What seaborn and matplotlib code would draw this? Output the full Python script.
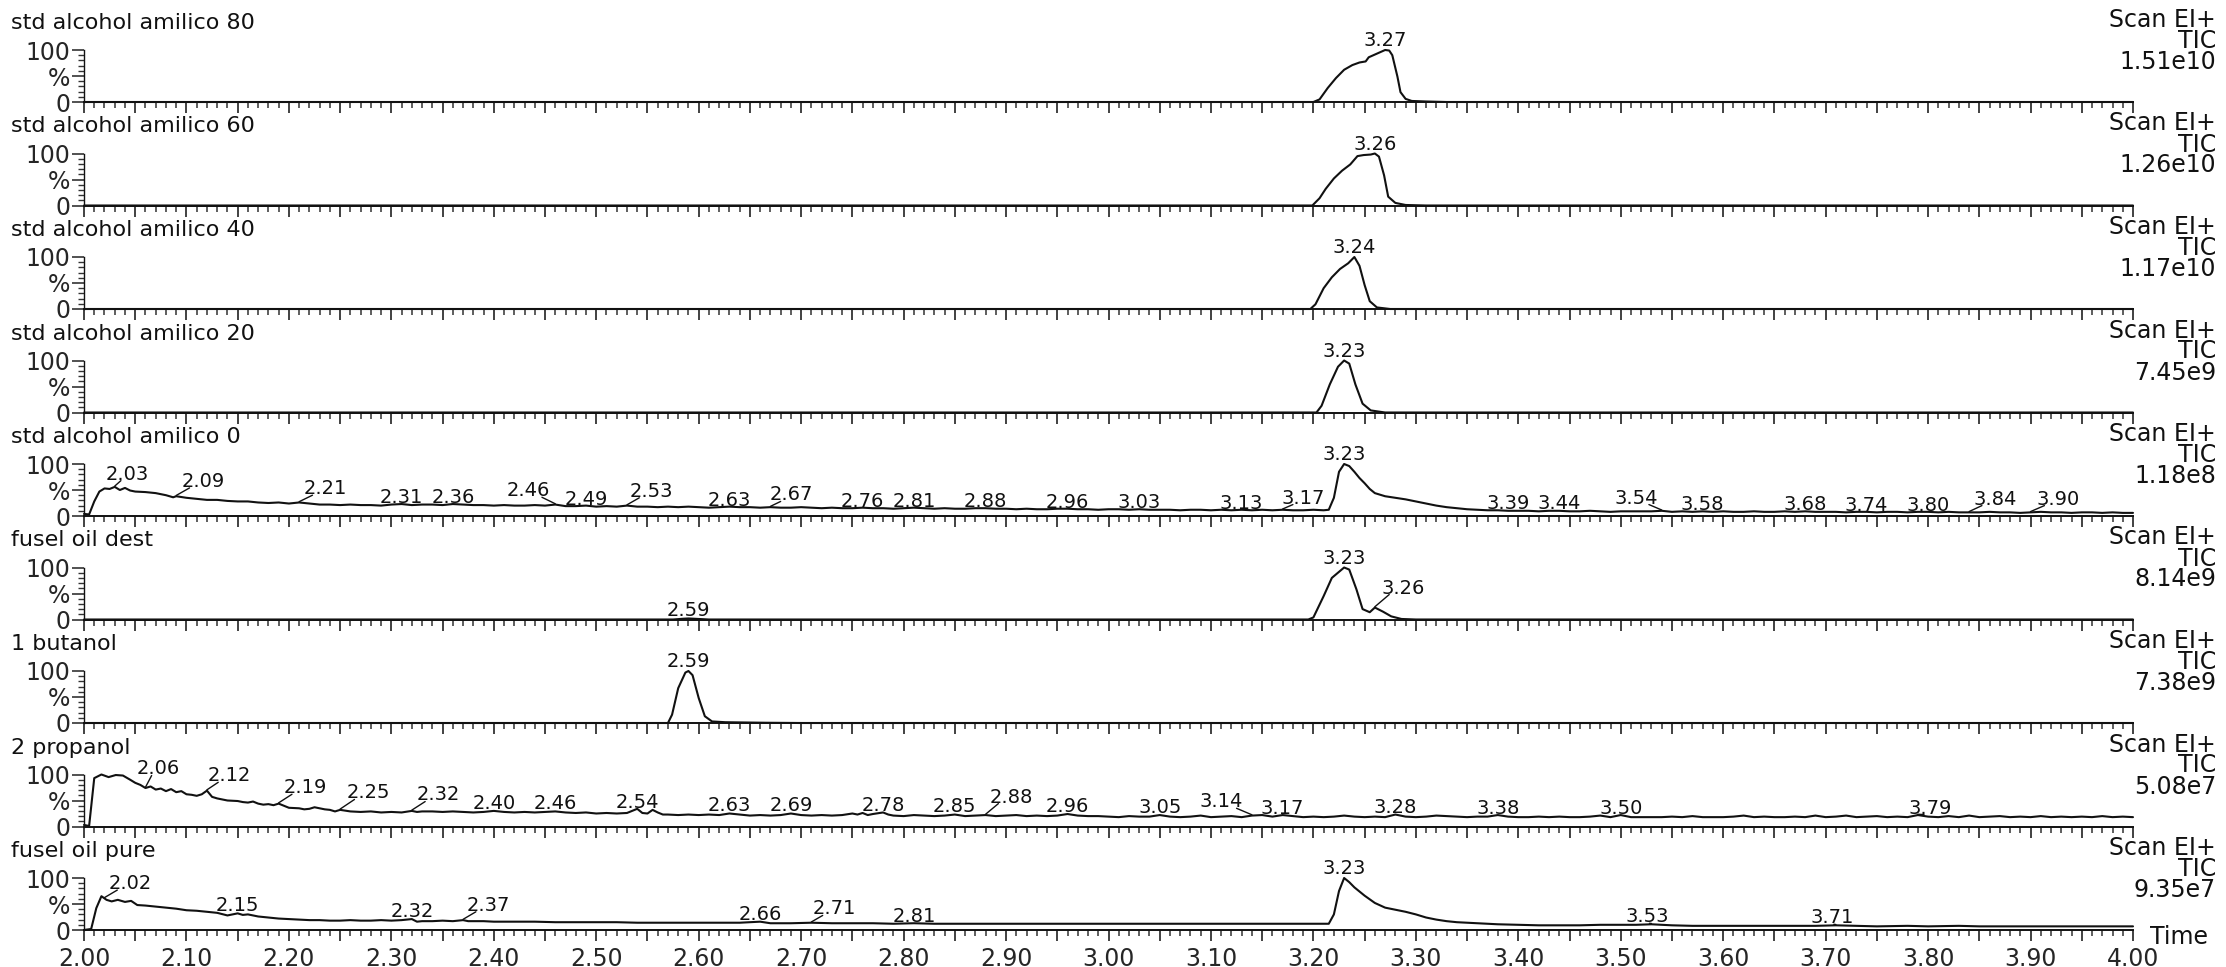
import numpy as np
import pandas as pd
import matplotlib
matplotlib.use("Agg")
import matplotlib.pyplot as plt
from matplotlib.ticker import MultipleLocator, FixedLocator, FixedFormatter
import seaborn as sns

# ---------------------------------------------------------------------------
# TIC chromatograms: retention time (min) and relative abundance (%)
# ---------------------------------------------------------------------------
std80_t = [2.00, 3.200, 3.206, 3.214, 3.222, 3.230, 3.238, 3.245, 3.251, 3.254,
           3.262, 3.270, 3.274, 3.277, 3.282, 3.285, 3.290, 3.296, 3.31, 3.33, 4.00]
std80_v = [0, 0, 5, 27, 46, 62, 71, 76, 78, 86,
           93, 100, 99, 90, 49, 19, 6, 2, 1, 0, 0]

std60_t = [2.00, 3.199, 3.206, 3.212, 3.220, 3.228, 3.236, 3.243, 3.249, 3.256,
           3.260, 3.264, 3.269, 3.273, 3.280, 3.290, 3.31, 4.00]
std60_v = [0, 0, 14, 32, 52, 67, 79, 95, 97, 98,
           100, 94, 58, 17, 5, 1, 0, 0]

std40_t = [2.00, 3.197, 3.202, 3.210, 3.218, 3.226, 3.234, 3.240, 3.245, 3.250,
           3.255, 3.262, 3.275, 4.00]
std40_v = [0, 0, 9, 40, 61, 77, 88, 100, 83, 46,
           15, 3, 0, 0]

std20_t = [2.00, 3.203, 3.208, 3.216, 3.224, 3.230, 3.235, 3.241, 3.248, 3.256,
           3.270, 4.00]
std20_v = [0, 0, 13, 54, 88, 100, 94, 54, 17, 4,
           0, 0]

std0_t = [2.000, 2.005, 2.010, 2.015, 2.020, 2.025, 2.030, 2.035, 2.040, 2.045,
          2.050, 2.06, 2.07, 2.08, 2.087, 2.09, 2.10, 2.11, 2.12, 2.13,
          2.14, 2.15, 2.16, 2.17, 2.18, 2.19, 2.20, 2.21, 2.22, 2.23,
          2.24, 2.25, 2.26, 2.27, 2.28, 2.29, 2.30, 2.31, 2.32, 2.33,
          2.34, 2.35, 2.36, 2.37, 2.38, 2.39, 2.40, 2.41, 2.42, 2.43,
          2.44, 2.45, 2.46, 2.47, 2.48, 2.49, 2.50, 2.51, 2.52, 2.53,
          2.54, 2.55, 2.56, 2.57, 2.58, 2.59, 2.60, 2.61, 2.62, 2.63,
          2.64, 2.65, 2.66, 2.67, 2.68, 2.69, 2.70, 2.71, 2.72, 2.73,
          2.74, 2.75, 2.76, 2.77, 2.78, 2.79, 2.80, 2.81, 2.82, 2.83,
          2.84, 2.85, 2.86, 2.87, 2.88, 2.89, 2.90, 2.91, 2.92, 2.93,
          2.94, 2.95, 2.96, 2.97, 2.98, 2.99, 3.00, 3.01, 3.02, 3.03,
          3.04, 3.05, 3.06, 3.07, 3.08, 3.09, 3.10, 3.11, 3.12, 3.13,
          3.14, 3.15, 3.16, 3.17, 3.18, 3.19, 3.20, 3.21, 3.215, 3.220,
          3.225, 3.230, 3.235, 3.240, 3.245, 3.250, 3.255, 3.26, 3.27, 3.28,
          3.29, 3.30, 3.31, 3.32, 3.33, 3.34, 3.35, 3.36, 3.37, 3.38,
          3.39, 3.40, 3.41, 3.42, 3.43, 3.44, 3.45, 3.46, 3.47, 3.48,
          3.49, 3.50, 3.51, 3.52, 3.53, 3.54, 3.55, 3.56, 3.57, 3.58,
          3.59, 3.60, 3.61, 3.62, 3.63, 3.64, 3.65, 3.66, 3.67, 3.68,
          3.69, 3.70, 3.71, 3.72, 3.73, 3.74, 3.75, 3.76, 3.77, 3.78,
          3.79, 3.80, 3.81, 3.82, 3.83, 3.84, 3.85, 3.86, 3.87, 3.88,
          3.89, 3.90, 3.91, 3.92, 3.93, 3.94, 3.95, 3.96, 3.97, 3.98,
          3.99, 4.00]
std0_v = [4, 3, 28, 47, 53, 52, 56, 50, 54, 49,
          47, 46, 44, 40, 36, 38, 35, 33, 31, 31,
          29, 28, 28, 26, 25, 26, 24, 26, 24, 22,
          22, 21, 22, 21, 21, 20, 22, 23, 21, 22,
          22, 21, 23, 22, 21, 21, 20, 21, 20, 20,
          21, 20, 22, 19, 19, 20, 18, 19, 18, 20,
          18, 18, 17, 18, 17, 18, 17, 16, 17, 18,
          17, 17, 16, 17, 16, 16, 17, 16, 15, 16,
          15, 15, 16, 15, 15, 14, 15, 16, 15, 14,
          15, 14, 14, 15, 15, 14, 14, 13, 14, 13,
          13, 14, 14, 13, 13, 12, 13, 13, 12, 13,
          12, 12, 12, 11, 12, 12, 11, 12, 11, 12,
          11, 12, 11, 12, 11, 11, 12, 11, 12, 35,
          85, 100, 96, 85, 73, 63, 52, 44, 38, 35,
          32, 28, 24, 20, 17, 15, 13, 12, 11, 11,
          10, 10, 10, 9, 10, 10, 9, 9, 10, 9,
          8, 9, 9, 9, 9, 10, 8, 9, 8, 9,
          8, 9, 8, 8, 9, 8, 8, 9, 8, 9,
          8, 8, 8, 7, 8, 8, 7, 8, 8, 7,
          8, 8, 7, 8, 7, 7, 7, 8, 7, 7,
          6, 7, 8, 7, 7, 6, 7, 7, 6, 7,
          6, 6]

fdest_t = [2.00, 2.575, 2.585, 2.590, 2.595, 2.610, 3.195, 3.200, 3.210, 3.218,
           3.230, 3.235, 3.242, 3.248, 3.255, 3.260, 3.268, 3.276, 3.286, 3.30, 4.00]
fdest_v = [0, 0, 1.5, 2, 1.5, 0, 0, 4, 45, 80,
           100, 96, 58, 20, 14, 23, 15, 6, 1, 0, 0]

butanol_t = [2.00, 2.570, 2.574, 2.580, 2.587, 2.590, 2.594, 2.600, 2.606, 2.613,
             2.626, 2.665, 2.70, 4.00]
butanol_v = [0, 0, 16, 67, 97, 100, 92, 48, 13, 3,
             1.5, 0.5, 0, 0]

prop_t = [2.000, 2.005, 2.010, 2.017, 2.024, 2.031, 2.038, 2.045, 2.050, 2.055,
          2.060, 2.065, 2.070, 2.075, 2.080, 2.085, 2.090, 2.095, 2.100, 2.105,
          2.110, 2.115, 2.120, 2.125, 2.130, 2.135, 2.140, 2.150, 2.155, 2.160,
          2.165, 2.170, 2.175, 2.180, 2.185, 2.190, 2.195, 2.200, 2.210, 2.215,
          2.220, 2.225, 2.230, 2.235, 2.240, 2.245, 2.250, 2.260, 2.270, 2.280,
          2.290, 2.300, 2.310, 2.320, 2.325, 2.330, 2.340, 2.350, 2.360, 2.370,
          2.380, 2.390, 2.400, 2.410, 2.420, 2.430, 2.440, 2.450, 2.460, 2.470,
          2.480, 2.490, 2.500, 2.510, 2.520, 2.530, 2.540, 2.545, 2.550, 2.555,
          2.560, 2.565, 2.570, 2.580, 2.590, 2.600, 2.610, 2.620, 2.630, 2.640,
          2.650, 2.660, 2.670, 2.680, 2.690, 2.700, 2.710, 2.720, 2.730, 2.740,
          2.750, 2.755, 2.760, 2.765, 2.770, 2.780, 2.785, 2.790, 2.800, 2.810,
          2.820, 2.830, 2.840, 2.850, 2.860, 2.870, 2.880, 2.890, 2.900, 2.910,
          2.920, 2.930, 2.940, 2.950, 2.960, 2.970, 2.980, 2.990, 3.000, 3.010,
          3.020, 3.030, 3.040, 3.050, 3.060, 3.070, 3.080, 3.090, 3.100, 3.110,
          3.120, 3.130, 3.140, 3.150, 3.160, 3.170, 3.180, 3.190, 3.200, 3.210,
          3.220, 3.230, 3.240, 3.250, 3.260, 3.270, 3.280, 3.290, 3.300, 3.310,
          3.320, 3.330, 3.340, 3.350, 3.360, 3.370, 3.380, 3.390, 3.400, 3.410,
          3.420, 3.430, 3.440, 3.450, 3.460, 3.470, 3.480, 3.490, 3.500, 3.510,
          3.520, 3.530, 3.540, 3.550, 3.560, 3.570, 3.580, 3.590, 3.600, 3.610,
          3.620, 3.630, 3.640, 3.650, 3.660, 3.670, 3.680, 3.690, 3.700, 3.710,
          3.720, 3.730, 3.740, 3.750, 3.760, 3.770, 3.780, 3.790, 3.800, 3.810,
          3.820, 3.830, 3.840, 3.850, 3.860, 3.870, 3.880, 3.890, 3.900, 3.910,
          3.920, 3.930, 3.940, 3.950, 3.960, 3.970, 3.980, 3.990, 4.000]
prop_v = [3, 1, 93, 100, 95, 99, 98, 90, 84, 80,
          74, 77, 71, 73, 68, 72, 66, 68, 62, 61,
          59, 62, 69, 57, 54, 52, 50, 49, 47, 46,
          48, 44, 42, 43, 41, 44, 40, 36, 35, 33,
          34, 37, 35, 33, 32, 29, 32, 29, 28, 29,
          27, 28, 27, 30, 28, 29, 29, 28, 29, 28,
          27, 28, 30, 28, 27, 28, 27, 28, 29, 27,
          26, 27, 25, 26, 25, 26, 34, 26, 25, 32,
          27, 23, 23, 22, 23, 22, 23, 22, 25, 23,
          21, 22, 21, 22, 25, 22, 21, 22, 21, 22,
          25, 23, 26, 22, 24, 27, 23, 21, 20, 22,
          21, 20, 21, 23, 20, 21, 22, 20, 21, 22,
          20, 21, 20, 21, 24, 21, 20, 20, 19, 18,
          20, 19, 19, 22, 19, 18, 19, 21, 18, 19,
          20, 18, 21, 22, 19, 22, 20, 18, 19, 18,
          19, 21, 19, 18, 19, 18, 23, 19, 18, 19,
          21, 20, 19, 18, 19, 19, 22, 19, 18, 18,
          19, 18, 19, 18, 18, 19, 21, 18, 22, 18,
          18, 18, 18, 19, 18, 20, 18, 18, 18, 19,
          21, 18, 19, 18, 18, 19, 18, 21, 18, 19,
          21, 18, 19, 20, 18, 19, 18, 22, 19, 18,
          20, 18, 21, 18, 19, 20, 18, 19, 18, 20,
          18, 19, 18, 19, 18, 20, 18, 19, 18]

fpure_t = [2.000, 2.007, 2.012, 2.017, 2.022, 2.027, 2.033, 2.040, 2.046, 2.052,
           2.06, 2.07, 2.08, 2.09, 2.10, 2.11, 2.12, 2.13, 2.14, 2.15,
           2.155, 2.16, 2.17, 2.18, 2.19, 2.20, 2.21, 2.22, 2.23, 2.24,
           2.25, 2.26, 2.27, 2.28, 2.29, 2.30, 2.31, 2.32, 2.325, 2.33,
           2.34, 2.35, 2.36, 2.37, 2.375, 2.38, 2.39, 2.40, 2.42, 2.44,
           2.46, 2.48, 2.50, 2.52, 2.54, 2.56, 2.58, 2.60, 2.62, 2.64,
           2.66, 2.67, 2.69, 2.71, 2.73, 2.75, 2.77, 2.79, 2.81, 2.83,
           2.85, 2.87, 2.90, 2.95, 3.00, 3.05, 3.10, 3.15, 3.20, 3.215,
           3.220, 3.225, 3.230, 3.235, 3.240, 3.250, 3.260, 3.270, 3.280, 3.290,
           3.300, 3.310, 3.320, 3.330, 3.340, 3.360, 3.380, 3.400, 3.420, 3.440,
           3.460, 3.480, 3.500, 3.515, 3.530, 3.550, 3.570, 3.600, 3.630, 3.660,
           3.690, 3.710, 3.730, 3.750, 3.780, 3.800, 3.830, 3.850, 3.880, 3.900,
           3.930, 3.950, 3.980, 4.000]
fpure_v = [0, 2, 42, 65, 58, 55, 58, 54, 56, 48,
           47, 45, 43, 41, 38, 37, 35, 33, 28, 32,
           29, 30, 26, 24, 22, 21, 20, 19, 19, 18,
           18, 19, 18, 18, 19, 18, 19, 21, 16, 17,
           17, 18, 17, 19, 17, 17, 17, 16, 16, 16,
           15, 15, 15, 15, 14, 14, 14, 14, 14, 14,
           16, 13, 13, 14, 13, 13, 13, 12, 13, 12,
           12, 12, 12, 12, 12, 12, 12, 12, 12, 12,
           30, 75, 100, 92, 82, 66, 52, 43, 39, 35,
           30, 24, 20, 17, 15, 13, 11, 10, 9, 9,
           9, 10, 10, 10, 11, 9, 8, 8, 8, 8,
           8, 9, 8, 7, 8, 7, 8, 7, 7, 7,
           7, 7, 7, 7]

# Labelled retention times for every trace
std80_peaks = [3.27]
std60_peaks = [3.26]
std40_peaks = [3.24]
std20_peaks = [3.23]
std0_peaks = [2.03, 2.09, 2.21, 2.31, 2.36, 2.46, 2.49, 2.53, 2.63, 2.67,
              2.76, 2.81, 2.88, 2.96, 3.03, 3.13, 3.17, 3.23, 3.39, 3.44,
              3.54, 3.58, 3.68, 3.74, 3.80, 3.84, 3.90]
fdest_peaks = [2.59, 3.23, 3.26]
butanol_peaks = [2.59]
prop_peaks = [2.06, 2.12, 2.19, 2.25, 2.32, 2.40, 2.46, 2.54, 2.63, 2.69,
              2.78, 2.85, 2.88, 2.96, 3.05, 3.14, 3.17, 3.28, 3.38, 3.50, 3.79]
fpure_peaks = [2.02, 2.15, 2.32, 2.37, 2.66, 2.71, 2.81, 3.23, 3.53, 3.71]

sample_names = ["std alcohol amilico 80", "std alcohol amilico 60",
                "std alcohol amilico 40", "std alcohol amilico 20",
                "std alcohol amilico 0", "fusel oil dest", "1 butanol",
                "2 propanol", "fusel oil pure"]
tic_values = ["1.51e10", "1.26e10", "1.17e10", "7.45e9", "1.18e8",
              "8.14e9", "7.38e9", "5.08e7", "9.35e7"]
x_tick_labels = ["2.00", "2.10", "2.20", "2.30", "2.40", "2.50", "2.60", "2.70",
                 "2.80", "2.90", "3.00", "3.10", "3.20", "3.30", "3.40", "3.50",
                 "3.60", "3.70", "3.80", "3.90", "4.00"]

traces = [(std80_t, std80_v, std80_peaks), (std60_t, std60_v, std60_peaks),
          (std40_t, std40_v, std40_peaks), (std20_t, std20_v, std20_peaks),
          (std0_t, std0_v, std0_peaks), (fdest_t, fdest_v, fdest_peaks),
          (butanol_t, butanol_v, butanol_peaks), (prop_t, prop_v, prop_peaks),
          (fpure_t, fpure_v, fpure_peaks)]

# Label placement (horizontal shift in min, lift above trace in %);
# a non-zero shift gets a leader line back to the trace.
label_layout = [
    [(0, 7)],
    [(0, 7)],
    [(0, 7)],
    [(0, 7)],
    [(0.012, 14), (0.026, 18), (0.026, 16), (0, 2), (0, 2), (-0.026, 16), (0, 1),
     (0.024, 17), (0, 2), (0.02, 13), (0, 2), (0, 2), (0, 2), (0, 2), (0, 2),
     (0, 2), (0.02, 12), (0, 7), (0, 3), (0, 3), (-0.025, 14), (0, 3), (0, 3),
     (0, 2), (0, 2), (0.025, 15), (0.027, 15)],
    [(0, 5), (0, 7), (0.028, 27)],
    [(0, 7)],
    [(0.012, 26), (0.022, 18), (0.026, 20), (0.028, 22), (0.026, 20), (0, 4),
     (0, 4), (0, 2), (0, 4), (0, 4), (0, 3), (0, 4), (0.025, 24), (0, 4),
     (0, 4), (-0.03, 16), (0, 3), (0, 3), (0, 3), (0, 3), (0.012, 3)],
    [(0.025, 18), (0, 5), (0, 4), (0.025, 18), (0, 4), (0.022, 16), (0, 3),
     (0, 7), (-0.004, 4), (-0.004, 4)],
]

# ---------------------------------------------------------------------------
sns.set_style("ticks")
plt.rcParams["font.family"] = ["DejaVu Sans"]
INK = "#111111"

W, H = 2226, 967
fig = plt.figure(figsize=(W / 100, H / 100), dpi=100)

X_LEFT, X_RIGHT = 84, 2133
BASE0, STEP, AX_H = 102, 103.5, 52
TXT = 17
TITLE_TXT = 16
PEAK_TXT = 14

n = len(traces)
for i, ((t, v, peaks), layout) in enumerate(zip(traces, label_layout)):
    yb = BASE0 + STEP * i
    ax = fig.add_axes([X_LEFT / W, 1 - yb / H, (X_RIGHT - X_LEFT) / W, AX_H / H])
    df = pd.DataFrame({"time": t, "abundance": v})
    sns.lineplot(data=df, x="time", y="abundance", ax=ax, color=INK,
                 linewidth=1.5, estimator=None, sort=False, clip_on=False)
    ax.set_xlim(2.0, 4.0)
    ax.set_ylim(0, 100)
    ax.set_xlabel("")
    ax.set_ylabel("")
    for side in ("top", "right"):
        ax.spines[side].set_visible(False)
    ax.spines["bottom"].set_linewidth(1.4)
    ax.spines["left"].set_linewidth(1.0)
    ax.spines["bottom"].set_color(INK)
    ax.spines["left"].set_color(INK)

    ax.xaxis.set_major_locator(MultipleLocator(0.05))
    ax.xaxis.set_minor_locator(MultipleLocator(0.01))
    ax.tick_params(axis="x", which="major", length=8, width=1.3, color="#333333",
                   direction="out", pad=4, labelsize=TXT)
    ax.tick_params(axis="x", which="minor", length=4, width=1.1, color="#333333",
                   direction="out")
    if i == n - 1:
        positions = np.round(np.arange(2.0, 4.001, 0.05), 2)
        ax.xaxis.set_major_locator(FixedLocator(positions))
        lbls = []
        k = 0
        for val in positions:
            if abs(val * 10 - round(val * 10)) < 1e-6:
                lbls.append(x_tick_labels[k])
                k += 1
            else:
                lbls.append("")
        ax.xaxis.set_major_formatter(FixedFormatter(lbls))
    else:
        ax.set_xticklabels([])

    ax.yaxis.set_major_locator(FixedLocator([0, 50, 100]))
    ax.yaxis.set_major_formatter(FixedFormatter(["0", "%", "100"]))
    ax.yaxis.set_minor_locator(MultipleLocator(10))
    ax.tick_params(axis="y", which="major", length=9, width=1.2, color="#333333",
                   pad=1, labelsize=TXT)
    ax.tick_params(axis="y", which="minor", length=4, width=1.0, color="#333333")

    # retention-time labels
    for tp, (dx, dy) in zip(peaks, layout):
        vp = float(np.interp(tp, t, v))
        ax.text(tp + dx, vp + dy, f"{tp:.2f}", ha="center", va="baseline",
                fontsize=PEAK_TXT, color=INK, clip_on=False)
        if dx != 0:
            ax.plot([tp, tp + 0.5 * dx], [vp + 1.5, vp + dy - 2], color=INK,
                    linewidth=1.0, clip_on=False)

    # sample name and acquisition info
    fig.text(11 / W, 1 - (yb - 79) / H, sample_names[i], ha="left", va="center",
             fontsize=TITLE_TXT, color=INK)
    fig.text(2216 / W, 1 - (yb - 82) / H, "Scan EI+", ha="right", va="center",
             fontsize=TXT, color=INK)
    fig.text(2216 / W, 1 - (yb - 61) / H, "TIC", ha="right", va="center",
             fontsize=TXT, color=INK)
    fig.text(2216 / W, 1 - (yb - 40) / H, tic_values[i], ha="right", va="center",
             fontsize=TXT, color=INK)

last_base = BASE0 + STEP * (n - 1)
fig.text(2150 / W, 1 - (last_base + 7) / H, "Time", ha="left", va="center",
         fontsize=TXT, color=INK)

fig.savefig("out.png", dpi=100, facecolor="white")
